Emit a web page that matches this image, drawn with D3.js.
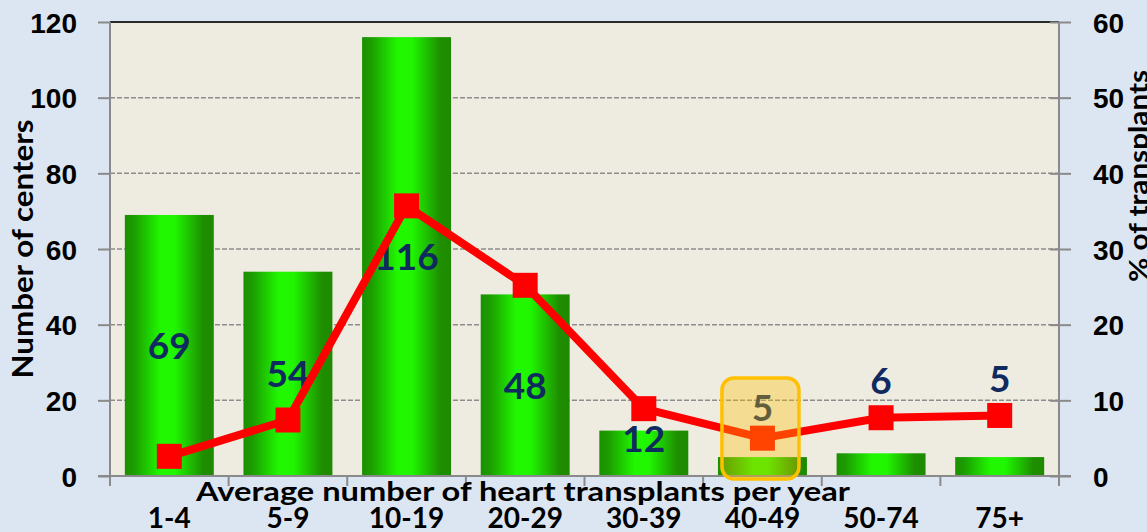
<!DOCTYPE html>
<html lang="en">
<head>
  <meta charset="UTF-8" />
  <title>Heart transplant centers by volume</title>
  <script src="https://d3js.org/d3.v7.min.js"></script>
  <style>
    body {
      margin: 0;
      padding: 0;
      background-color: #dce6f2;
    }
    svg {
      display: block;
      font-family: Lato, "Open Sans", sans-serif;
      font-weight: bold;
    }
    .grid line {
      stroke: #8c8c8c;
      stroke-width: 1.5px;
      stroke-dasharray: 5 2;
    }
    .axis path {
      display: none;
    }
    .axis line,
    .frame {
      stroke: #8a8a8a;
      stroke-width: 2px;
    }
    .axis text {
      font-size: 28px;
      fill: #000;
    }
    .bar-label {
      font-size: 37px;
      fill: #0f2a5f;
      text-anchor: middle;
    }
  </style>
</head>
<body>
  <svg width="1147" height="532"></svg>
  <script>
    const categories = ["1-4", "5-9", "10-19", "20-29", "30-39", "40-49", "50-74", "75+"];
    const centers = [69, 54, 116, 48, 12, 5, 6, 5];
    const pctTransplants = [2.6, 7.4, 35.7, 25.2, 8.9, 5.0, 7.7, 8.0];
    const leftTicks = [0, 20, 40, 60, 80, 100, 120];
    const rightTicks = [0, 10, 20, 30, 40, 50, 60];
    const highlighted = "40-49";

    const svg = d3.select("svg");
    const plot = { top: 22, bottom: 476, left: 110, right: 1059 };

    const x = d3.scaleBand()
      .domain(categories)
      .range([plot.left, plot.right])
      .paddingInner(0.25)
      .paddingOuter(0.125);
    const yLeft = d3.scaleLinear().domain([0, 120]).range([plot.bottom, plot.top]);
    const yRight = d3.scaleLinear().domain([0, 60]).range([plot.bottom, plot.top]);

    // bar gradient (dark edges, bright middle)
    const defs = svg.append("defs");
    const grad = defs.append("linearGradient")
      .attr("id", "barGrad")
      .attr("x1", "0").attr("x2", "1").attr("y1", "0").attr("y2", "0");
    [[0, "#1b9000"], [0.1, "#1c9c00"], [0.4, "#20f800"], [0.56, "#20f600"], [0.88, "#1e8e00"], [1, "#1e8a00"]]
      .forEach(([o, c]) => grad.append("stop").attr("offset", o).attr("stop-color", c));

    // plot background
    svg.append("rect")
      .attr("x", plot.left).attr("y", plot.top)
      .attr("width", plot.right - plot.left).attr("height", plot.bottom - plot.top)
      .attr("fill", "#eeece1");

    // dashed gridlines
    svg.append("g").attr("class", "grid")
      .selectAll("line")
      .data(leftTicks.filter(d => d > 0 && d < 120))
      .join("line")
      .attr("x1", plot.left).attr("x2", plot.right)
      .attr("y1", d => yLeft(d)).attr("y2", d => yLeft(d));

    svg.append("line")
      .attr("x1", plot.left).attr("x2", plot.right)
      .attr("y1", plot.top).attr("y2", plot.top)
      .attr("stroke", "#2a2a2a").attr("stroke-width", 2);

    // bars
    svg.append("g")
      .selectAll("rect")
      .data(categories)
      .join("rect")
      .attr("x", d => x(d))
      .attr("width", x.bandwidth())
      .attr("y", (d, i) => yLeft(centers[i]))
      .attr("height", (d, i) => plot.bottom - yLeft(centers[i]))
      .attr("fill", "url(#barGrad)");

    // frame lines: left / right axis, baseline
    svg.append("line").attr("class", "frame")
      .attr("x1", plot.left).attr("x2", plot.left)
      .attr("y1", plot.top).attr("y2", plot.bottom + 10);
    svg.append("line").attr("class", "frame")
      .attr("x1", plot.right).attr("x2", plot.right)
      .attr("y1", plot.top).attr("y2", plot.bottom + 10);
    svg.append("line").attr("class", "frame")
      .attr("x1", plot.left - 12).attr("x2", plot.right + 12)
      .attr("y1", plot.bottom).attr("y2", plot.bottom);

    // category boundary ticks
    svg.append("g")
      .selectAll("line")
      .data(d3.range(1, categories.length))
      .join("line")
      .attr("class", "frame")
      .attr("x1", i => plot.left + i * x.step())
      .attr("x2", i => plot.left + i * x.step())
      .attr("y1", plot.bottom).attr("y2", plot.bottom + 10);

    // left axis
    const leftAxis = svg.append("g").attr("class", "axis")
      .attr("transform", `translate(${plot.left},0)`)
      .call(d3.axisLeft(yLeft).tickValues(leftTicks).tickSize(12).tickPadding(21).tickSizeOuter(0));
    leftAxis.selectAll(".tick text").attr("dy", "0.36em");

    // right axis title (sits under the tick labels, clipped by the edge)
    svg.append("text")
      .attr("transform", `translate(1148,${176}) rotate(-90)`)
      .attr("text-anchor", "middle")
      .attr("font-size", 27)
      .attr("textLength", 212)
      .attr("lengthAdjust", "spacingAndGlyphs")
      .text("% of transplants");

    // right axis
    const rightAxis = svg.append("g").attr("class", "axis")
      .attr("transform", `translate(${plot.right},0)`)
      .call(d3.axisRight(yRight).tickValues(rightTicks).tickSize(12).tickPadding(22).tickSizeOuter(0));
    rightAxis.selectAll(".tick line").attr("x1", -9);
    rightAxis.selectAll(".tick text").attr("dy", "0.36em");

    // category labels
    svg.append("g")
      .selectAll("text")
      .data(categories)
      .join("text")
      .attr("x", d => x(d) + x.bandwidth() / 2)
      .attr("y", 528)
      .attr("text-anchor", "middle")
      .attr("font-size", 28)
      .text(d => d);

    // axis titles
    svg.append("text")
      .attr("x", 523).attr("y", 501)
      .attr("text-anchor", "middle")
      .attr("font-size", 27)
      .attr("textLength", 654)
      .attr("lengthAdjust", "spacingAndGlyphs")
      .text("Average number of heart transplants per year");

    svg.append("text")
      .attr("transform", "translate(33,249) rotate(-90)")
      .attr("text-anchor", "middle")
      .attr("font-size", 28)
      .attr("textLength", 259)
      .attr("lengthAdjust", "spacingAndGlyphs")
      .text("Number of centers");

    // bar value labels
    const cx = d => x(d) + x.bandwidth() / 2;
    function labelY(i) {
      const v = centers[i];
      if (v >= 40) return (yLeft(v) + plot.bottom) / 2;      // middle of the bar
      if (v >= 10) return yLeft(v) + 8;                         // just inside the top
      if (categories[i] === highlighted) return yRight(pctTransplants[i]) - 30;
      return yRight(pctTransplants[i]) - 37;                    // above the marker
    }
    svg.append("g")
      .selectAll("text")
      .data(categories)
      .join("text")
      .attr("class", "bar-label")
      .attr("x", d => cx(d))
      .attr("y", (d, i) => labelY(i))
      .attr("dy", "0.36em")
      .text((d, i) => centers[i]);

    // percent line
    const line = d3.line()
      .x(d => cx(d))
      .y((d, i) => yRight(pctTransplants[i]));
    svg.append("path")
      .datum(categories)
      .attr("d", line)
      .attr("fill", "none")
      .attr("stroke", "#ff0000")
      .attr("stroke-width", 8)
      .attr("stroke-linejoin", "round");

    const m = 25;
    svg.append("g")
      .selectAll("rect")
      .data(categories)
      .join("rect")
      .attr("x", d => cx(d) - m / 2)
      .attr("y", (d, i) => yRight(pctTransplants[i]) - m / 2)
      .attr("width", m).attr("height", m)
      .attr("fill", "#ff0000");

    // highlight box
    const hx = x(highlighted);
    svg.append("rect")
      .attr("x", hx + 4)
      .attr("y", 378)
      .attr("width", 77)
      .attr("height", 101)
      .attr("rx", 12)
      .attr("fill", "rgba(255,192,0,0.35)")
      .attr("stroke", "#ffc000")
      .attr("stroke-width", 3.5);
  </script>
</body>
</html>
